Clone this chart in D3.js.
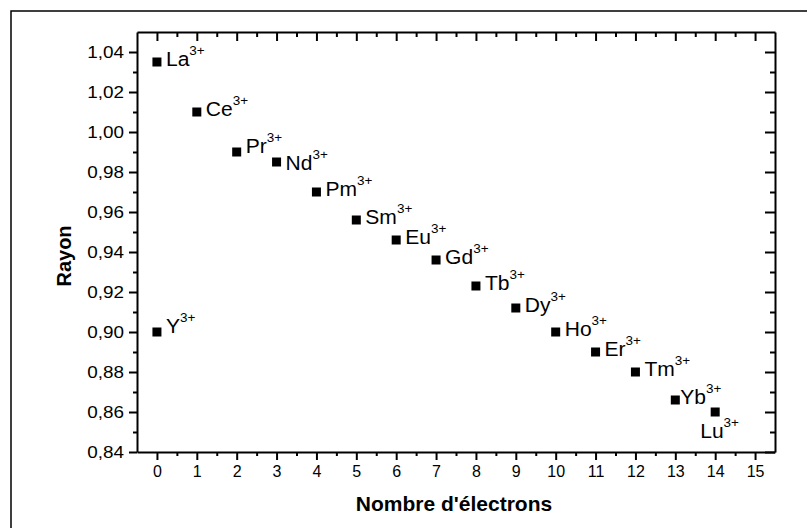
<!DOCTYPE html>
<html>
<head>
<meta charset="utf-8">
<script src="https://cdn.jsdelivr.net/npm/d3@7"></script>
<style>
  html, body { margin: 0; padding: 0; background: #fff; }
  svg { display: block; font-family: "Liberation Sans", Arial, sans-serif; }
</style>
</head>
<body>
<svg id="chart" width="807" height="528"></svg>
<script>
// Trivalent lanthanide ions (plus yttrium) and their ionic radius
const ions      = ["La", "Ce", "Pr", "Nd", "Pm", "Sm", "Eu", "Gd", "Tb", "Dy", "Ho", "Er", "Tm", "Yb", "Lu", "Y"];
const electrons = [0, 1, 2, 3, 4, 5, 6, 7, 8, 9, 10, 11, 12, 13, 14, 0];
const radius    = [1.035, 1.010, 0.990, 0.985, 0.970, 0.956, 0.946, 0.936, 0.923, 0.912, 0.900, 0.890, 0.880, 0.866, 0.860, 0.900];
const charge    = "3+";

const xTicks = d3.range(0, 16);
const yTicks = [0.84, 0.86, 0.88, 0.90, 0.92, 0.94, 0.96, 0.98, 1.00, 1.02, 1.04];

const xTitle = "Nombre d'électrons";
const yTitle = "Rayon";

// label nudges (pixels) relative to the default right-of-marker placement
const nudge = {
  Pr: { dx: 0, dy: -3 },
  Nd: { dx: 0, dy: 4 },
  Y:  { dx: 0, dy: -3 },
  Yb: { dx: -4, dy: 0 },
  Lu: { dx: -24, dy: 22 }
};

const svg = d3.select("#chart");
const plotL = 137, plotR = 775, plotT = 32, plotB = 452;

const x = d3.scaleLinear().domain([-0.5, 15.5]).range([plotL, plotR]);
const y = d3.scaleLinear().domain([0.84, 1.05]).range([plotB, plotT]);

const comma = d3.formatLocale({ decimal: ",", thousands: " ", grouping: [3], currency: ["", ""] }).format(".2f");

const xMinor = d3.range(0.5, 15, 1);
const yMinor = d3.range(0, 10).map(i => 0.85 + i * 0.02);

// outer frame
svg.append("rect")
  .attr("x", 11).attr("y", 11).attr("width", 820).attr("height", 600)
  .attr("fill", "none").attr("stroke", "#000").attr("stroke-width", 1.5);

function styleAxis(g) {
  g.select(".domain").attr("stroke-width", 2);
  g.selectAll(".tick line").attr("stroke-width", 2);
  g.selectAll("text").attr("font-size", 16).attr("fill", "#000");
}
function minorOnly(g) {
  g.select(".domain").remove();
  g.selectAll("line").attr("stroke-width", 2);
}

// bottom axis: major + minor, outward
svg.append("g").attr("transform", `translate(0,${plotB})`)
  .call(d3.axisBottom(x).tickValues(xMinor).tickSize(4).tickFormat("").tickSizeOuter(0))
  .call(minorOnly);
svg.append("g").attr("transform", `translate(0,${plotB})`)
  .call(d3.axisBottom(x).tickValues(xTicks).tickSize(8).tickPadding(6).tickSizeOuter(0).tickFormat(d3.format("d")))
  .call(styleAxis);

// left axis (labels drawn slightly wide)
svg.append("g").attr("transform", `translate(${plotL},0)`)
  .call(d3.axisLeft(y).tickValues(yMinor).tickSize(4).tickFormat("").tickSizeOuter(0))
  .call(minorOnly);
svg.append("g").attr("transform", `translate(${plotL},0)`)
  .call(d3.axisLeft(y).tickValues(yTicks).tickSize(8).tickPadding(5).tickSizeOuter(0).tickFormat(comma))
  .call(styleAxis)
  .call(g => g.selectAll(".tick text")
    .attr("x", 0)
    .attr("transform", "translate(-13,0) scale(1.18,1)"));

// top axis: ticks pointing inward
svg.append("g").attr("transform", `translate(0,${plotT})`)
  .call(d3.axisTop(x).tickValues(xMinor).tickSize(-5).tickFormat("").tickSizeOuter(0))
  .call(minorOnly);
svg.append("g").attr("transform", `translate(0,${plotT})`)
  .call(d3.axisTop(x).tickValues(xTicks).tickSize(-9).tickFormat("").tickSizeOuter(0))
  .call(styleAxis);

// right axis: ticks pointing inward
svg.append("g").attr("transform", `translate(${plotR},0)`)
  .call(d3.axisRight(y).tickValues(yMinor).tickSize(-5).tickFormat("").tickSizeOuter(0))
  .call(minorOnly);
svg.append("g").attr("transform", `translate(${plotR},0)`)
  .call(d3.axisRight(y).tickValues(yTicks).tickSize(-10).tickFormat("").tickSizeOuter(0))
  .call(styleAxis);

// axis titles
svg.append("text")
  .attr("x", (plotL + plotR) / 2 - 2).attr("y", 511)
  .attr("text-anchor", "middle").attr("font-size", 21).attr("font-weight", "bold")
  .text(xTitle);
svg.append("text")
  .attr("transform", `translate(71,256) rotate(-90)`)
  .attr("text-anchor", "middle").attr("font-size", 20).attr("font-weight", "bold")
  .text(yTitle);

// points
const pts = ions.map((ion, i) => ({ ion, n: electrons[i], r: radius[i] }));
const sq = 9;
svg.append("g").selectAll("rect").data(pts).join("rect")
  .attr("x", d => x(d.n) - sq / 2).attr("y", d => y(d.r) - sq / 2)
  .attr("width", sq).attr("height", sq).attr("fill", "#000");

// ion labels with superscript charge
const lab = svg.append("g").selectAll("text").data(pts).join("text")
  .attr("transform", d => {
    const o = nudge[d.ion] || { dx: 0, dy: 0 };
    return `translate(${x(d.n) + 9 + o.dx},${y(d.r) + 4 + o.dy}) scale(1.08,1)`;
  })
  .attr("font-size", 19.5).attr("fill", "#000");
lab.append("tspan").text(d => d.ion);
lab.append("tspan").attr("dy", -11).attr("font-size", 12.5).text(charge);
</script>
</body>
</html>
